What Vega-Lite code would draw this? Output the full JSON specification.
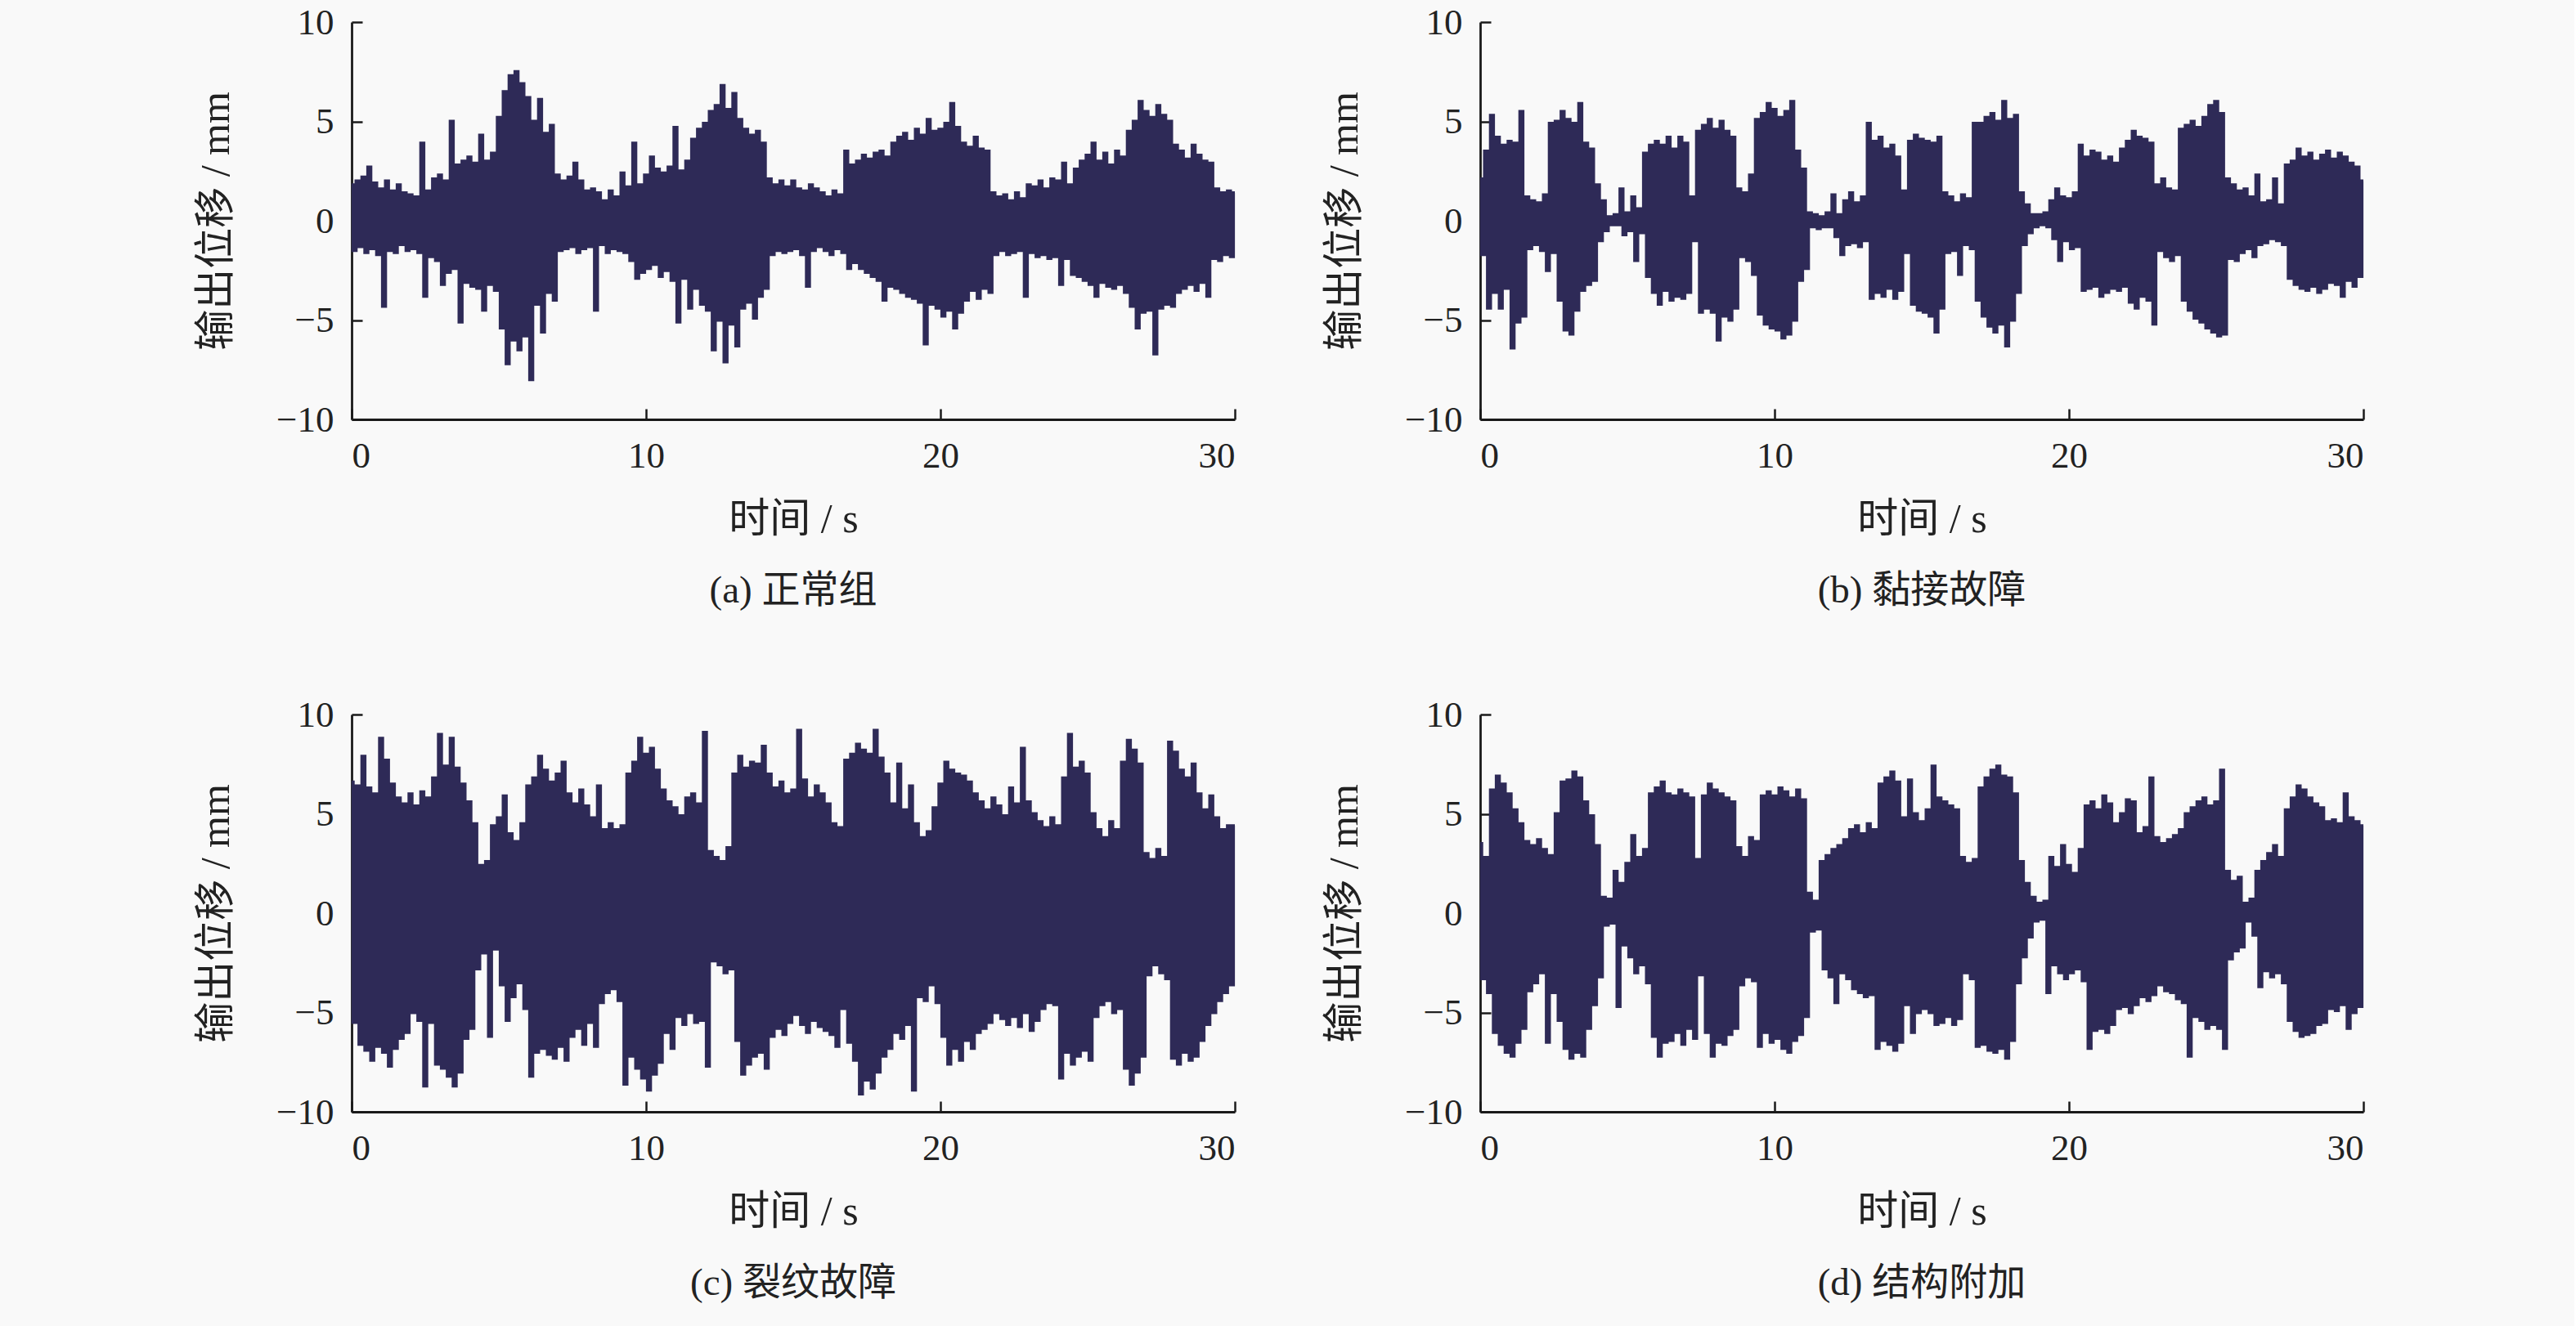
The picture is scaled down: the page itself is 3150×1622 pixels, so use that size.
{
  "$schema": "https://vega.github.io/schema/vega-lite/v6.json",
  "background": "#f9f9f9",
  "padding": {"left": 239, "top": 5, "right": 250, "bottom": 30},
  "bounds": "flush",
  "columns": 2,
  "spacing": {"row": 361, "column": 300},
  "data": {
    "values": [
      {"t":0,"a":1.8,"b":2.1,"c":6.6,"d":3.5},
      {"t":0.1,"a":-1.5,"b":-1.7,"c":-5.5,"d":-3.3},
      {"t":0.2,"a":2.0,"b":3.5,"c":6.4,"d":2.8},
      {"t":0.3,"a":-1.3,"b":-4.4,"c":-6.6,"d":-4.0},
      {"t":0.4,"a":2.2,"b":5.3,"c":7.9,"d":6.2},
      {"t":0.5,"a":-1.6,"b":-3.6,"c":-6.9,"d":-6.0},
      {"t":0.6,"a":2.7,"b":4.2,"c":6.3,"d":6.9},
      {"t":0.7,"a":-1.4,"b":-4.4,"c":-7.4,"d":-6.6},
      {"t":0.8,"a":1.9,"b":3.8,"c":6.0,"d":6.5},
      {"t":0.9,"a":-1.7,"b":-3.4,"c":-6.7,"d":-7.0},
      {"t":1.0,"a":1.6,"b":4.0,"c":8.8,"d":6.0},
      {"t":1.1,"a":-4.3,"b":-6.4,"c":-7.0,"d":-7.2},
      {"t":1.2,"a":2.0,"b":3.9,"c":7.7,"d":5.2},
      {"t":1.3,"a":-1.5,"b":-5.1,"c":-7.7,"d":-6.5},
      {"t":1.4,"a":1.5,"b":5.5,"c":6.5,"d":4.5},
      {"t":1.5,"a":-1.6,"b":-4.8,"c":-6.8,"d":-5.8},
      {"t":1.6,"a":1.8,"b":1.2,"c":5.8,"d":3.6},
      {"t":1.7,"a":-1.2,"b":-1.4,"c":-6.3,"d":-3.9},
      {"t":1.8,"a":1.4,"b":1.0,"c":5.5,"d":3.4},
      {"t":1.9,"a":-1.5,"b":-1.2,"c":-6.0,"d":-3.5},
      {"t":2.0,"a":1.3,"b":0.9,"c":6.0,"d":3.7},
      {"t":2.1,"a":-1.4,"b":-1.5,"c":-5.0,"d":-3.0},
      {"t":2.2,"a":1.2,"b":1.3,"c":5.4,"d":3.2},
      {"t":2.3,"a":-1.6,"b":-2.5,"c":-5.4,"d":-6.5},
      {"t":2.4,"a":3.9,"b":4.9,"c":6.1,"d":2.9},
      {"t":2.5,"a":-3.8,"b":-1.6,"c":-8.7,"d":-4.0},
      {"t":2.6,"a":1.5,"b":5.0,"c":5.8,"d":5.0},
      {"t":2.7,"a":-1.8,"b":-4.0,"c":-5.5,"d":-5.4},
      {"t":2.8,"a":2.1,"b":5.5,"c":6.8,"d":6.6},
      {"t":2.9,"a":-2.0,"b":-5.5,"c":-7.6,"d":-6.8},
      {"t":3.0,"a":2.3,"b":5.1,"c":9.0,"d":6.7},
      {"t":3.1,"a":-3.2,"b":-5.7,"c":-7.8,"d":-7.3},
      {"t":3.2,"a":2.0,"b":4.9,"c":7.4,"d":7.1},
      {"t":3.3,"a":-2.6,"b":-4.5,"c":-8.2,"d":-7.0},
      {"t":3.4,"a":5.0,"b":5.9,"c":8.8,"d":6.8},
      {"t":3.5,"a":-2.4,"b":-3.5,"c":-8.7,"d":-7.2},
      {"t":3.6,"a":2.8,"b":3.9,"c":7.3,"d":5.6},
      {"t":3.7,"a":-5.1,"b":-3.2,"c":-8.0,"d":-5.8},
      {"t":3.8,"a":3.0,"b":3.6,"c":6.5,"d":4.9},
      {"t":3.9,"a":-3.1,"b":-3.0,"c":-6.3,"d":-4.6},
      {"t":4.0,"a":3.2,"b":1.8,"c":5.6,"d":3.4},
      {"t":4.1,"a":-3.3,"b":-1.0,"c":-5.8,"d":-3.2},
      {"t":4.2,"a":2.9,"b":1.0,"c":4.5,"d":0.8},
      {"t":4.3,"a":-3.4,"b":-0.5,"c":-2.8,"d":-0.6},
      {"t":4.4,"a":4.3,"b":0.2,"c":2.4,"d":0.7},
      {"t":4.5,"a":-4.5,"b":-0.2,"c":-2.0,"d":-0.5},
      {"t":4.6,"a":3.0,"b":0.3,"c":2.6,"d":2.1},
      {"t":4.7,"a":-3.2,"b":-0.2,"c":-6.2,"d":-4.7},
      {"t":4.8,"a":3.4,"b":1.6,"c":4.4,"d":1.5},
      {"t":4.9,"a":-3.5,"b":-0.7,"c":-1.8,"d":-1.6},
      {"t":5.0,"a":5.2,"b":0.4,"c":4.8,"d":2.5},
      {"t":5.1,"a":-5.4,"b":-0.5,"c":-3.6,"d":-2.2},
      {"t":5.2,"a":6.5,"b":1.2,"c":5.9,"d":3.9},
      {"t":5.3,"a":-7.2,"b":-2.0,"c":-5.4,"d":-3.0},
      {"t":5.4,"a":7.3,"b":0.6,"c":4.0,"d":2.8},
      {"t":5.5,"a":-6.0,"b":-0.6,"c":-4.2,"d":-2.6},
      {"t":5.6,"a":7.5,"b":3.4,"c":3.6,"d":3.2},
      {"t":5.7,"a":-6.5,"b":-2.8,"c":-3.5,"d":-3.5},
      {"t":5.8,"a":6.9,"b":3.8,"c":4.5,"d":6.0},
      {"t":5.9,"a":-5.8,"b":-3.6,"c":-4.8,"d":-6.2},
      {"t":6.0,"a":6.2,"b":4.0,"c":6.4,"d":6.3},
      {"t":6.1,"a":-8.0,"b":-4.2,"c":-8.2,"d":-7.2},
      {"t":6.2,"a":5.0,"b":3.8,"c":6.8,"d":6.6},
      {"t":6.3,"a":-4.2,"b":-3.5,"c":-7.0,"d":-6.5},
      {"t":6.4,"a":6.1,"b":4.2,"c":7.9,"d":6.0},
      {"t":6.5,"a":-5.6,"b":-4.0,"c":-6.8,"d":-6.4},
      {"t":6.6,"a":4.4,"b":3.6,"c":7.2,"d":5.9},
      {"t":6.7,"a":-3.6,"b":-3.8,"c":-7.1,"d":-6.0},
      {"t":6.8,"a":4.8,"b":4.2,"c":6.6,"d":6.2},
      {"t":6.9,"a":-4.0,"b":-3.9,"c":-7.3,"d":-6.6},
      {"t":7.0,"a":2.3,"b":3.9,"c":7.0,"d":6.0},
      {"t":7.1,"a":-1.5,"b":-3.6,"c":-6.7,"d":-5.8},
      {"t":7.2,"a":2.0,"b":1.2,"c":7.6,"d":5.8},
      {"t":7.3,"a":-1.4,"b":-1.0,"c":-7.4,"d":-6.3},
      {"t":7.4,"a":2.2,"b":4.5,"c":6.0,"d":2.7},
      {"t":7.5,"a":-1.3,"b":-4.6,"c":-6.2,"d":-3.1},
      {"t":7.6,"a":2.9,"b":4.8,"c":5.5,"d":5.9},
      {"t":7.7,"a":-1.6,"b":-4.4,"c":-5.8,"d":-6.0},
      {"t":7.8,"a":2.0,"b":5.1,"c":6.2,"d":6.5},
      {"t":7.9,"a":-1.4,"b":-4.6,"c":-6.6,"d":-7.2},
      {"t":8.0,"a":1.5,"b":4.6,"c":5.4,"d":6.2},
      {"t":8.1,"a":-1.3,"b":-6.0,"c":-5.5,"d":-6.5},
      {"t":8.2,"a":1.6,"b":5.0,"c":4.8,"d":6.0},
      {"t":8.3,"a":-4.5,"b":-4.8,"c":-6.7,"d":-6.6},
      {"t":8.4,"a":1.4,"b":4.5,"c":6.4,"d":5.8},
      {"t":8.5,"a":-1.2,"b":-5.0,"c":-4.5,"d":-6.1},
      {"t":8.6,"a":1.0,"b":4.2,"c":4.2,"d":5.6},
      {"t":8.7,"a":-1.6,"b":-4.4,"c":-4.0,"d":-5.8},
      {"t":8.8,"a":1.5,"b":1.6,"c":4.5,"d":3.3},
      {"t":8.9,"a":-1.4,"b":-1.8,"c":-3.8,"d":-3.6},
      {"t":9.0,"a":1.2,"b":1.4,"c":4.2,"d":2.8},
      {"t":9.1,"a":-1.5,"b":-2.0,"c":-4.4,"d":-3.2},
      {"t":9.2,"a":2.4,"b":2.3,"c":4.4,"d":3.8},
      {"t":9.3,"a":-1.6,"b":-2.7,"c":-8.6,"d":-3.4},
      {"t":9.4,"a":1.7,"b":5.1,"c":7.0,"d":3.6},
      {"t":9.5,"a":-2.0,"b":-4.7,"c":-7.2,"d":-6.7},
      {"t":9.6,"a":3.9,"b":5.4,"c":7.6,"d":5.9},
      {"t":9.7,"a":-2.9,"b":-5.2,"c":-7.8,"d":-6.0},
      {"t":9.8,"a":1.8,"b":5.9,"c":8.8,"d":6.1},
      {"t":9.9,"a":-2.6,"b":-5.4,"c":-8.3,"d":-6.5},
      {"t":10.0,"a":2.3,"b":5.6,"c":8.0,"d":5.9},
      {"t":10.1,"a":-2.4,"b":-5.5,"c":-8.9,"d":-6.3},
      {"t":10.2,"a":3.2,"b":5.2,"c":8.3,"d":6.3},
      {"t":10.3,"a":-2.2,"b":-5.9,"c":-8.1,"d":-6.8},
      {"t":10.4,"a":2.6,"b":5.5,"c":7.2,"d":6.1},
      {"t":10.5,"a":-2.8,"b":-5.7,"c":-7.5,"d":-7.0},
      {"t":10.6,"a":2.4,"b":6.0,"c":6.2,"d":5.8},
      {"t":10.7,"a":-2.5,"b":-5.0,"c":-6.0,"d":-6.4},
      {"t":10.8,"a":2.7,"b":3.5,"c":5.6,"d":6.2},
      {"t":10.9,"a":-3.0,"b":-3.0,"c":-6.8,"d":-6.1},
      {"t":11.0,"a":4.7,"b":2.6,"c":5.3,"d":5.7},
      {"t":11.1,"a":-5.1,"b":-2.4,"c":-5.2,"d":-5.2},
      {"t":11.2,"a":2.5,"b":0.4,"c":4.9,"d":1.0},
      {"t":11.3,"a":-2.9,"b":-0.3,"c":-5.6,"d":-0.9},
      {"t":11.4,"a":3.0,"b":0.3,"c":5.8,"d":0.6},
      {"t":11.5,"a":-4.4,"b":-0.4,"c":-5.0,"d":-0.8},
      {"t":11.6,"a":4.1,"b":0.2,"c":6.0,"d":2.6},
      {"t":11.7,"a":-3.4,"b":-0.3,"c":-5.5,"d":-2.8},
      {"t":11.8,"a":4.6,"b":0.4,"c":5.5,"d":2.9},
      {"t":11.9,"a":-4.2,"b":-0.3,"c":-5.4,"d":-3.2},
      {"t":12.0,"a":4.9,"b":1.3,"c":9.1,"d":3.2},
      {"t":12.1,"a":-4.5,"b":-0.8,"c":-7.7,"d":-4.5},
      {"t":12.2,"a":5.5,"b":0.3,"c":3.1,"d":3.4},
      {"t":12.3,"a":-6.5,"b":-1.7,"c":-2.4,"d":-3.0},
      {"t":12.4,"a":5.8,"b":1.0,"c":2.8,"d":3.7},
      {"t":12.5,"a":-5.0,"b":-1.2,"c":-2.6,"d":-3.3},
      {"t":12.6,"a":6.8,"b":1.4,"c":2.6,"d":4.2},
      {"t":12.7,"a":-7.1,"b":-1.1,"c":-3.0,"d":-3.8},
      {"t":12.8,"a":5.6,"b":0.9,"c":3.3,"d":4.4},
      {"t":12.9,"a":-5.2,"b":-1.3,"c":-2.8,"d":-4.0},
      {"t":13.0,"a":6.4,"b":1.2,"c":7.0,"d":4.0},
      {"t":13.1,"a":-6.3,"b":-1.0,"c":-6.4,"d":-4.2},
      {"t":13.2,"a":5.1,"b":4.9,"c":7.9,"d":4.5},
      {"t":13.3,"a":-4.4,"b":-3.9,"c":-8.1,"d":-4.1},
      {"t":13.4,"a":4.6,"b":4.0,"c":7.3,"d":4.2},
      {"t":13.5,"a":-4.1,"b":-3.6,"c":-7.6,"d":-6.8},
      {"t":13.6,"a":4.3,"b":4.2,"c":7.6,"d":6.5},
      {"t":13.7,"a":-4.9,"b":-3.8,"c":-7.2,"d":-6.4},
      {"t":13.8,"a":4.5,"b":3.6,"c":7.5,"d":6.8},
      {"t":13.9,"a":-3.8,"b":-3.4,"c":-7.0,"d":-6.6},
      {"t":14.0,"a":3.9,"b":3.8,"c":8.4,"d":7.1},
      {"t":14.1,"a":-3.4,"b":-3.9,"c":-7.8,"d":-6.9},
      {"t":14.2,"a":2.1,"b":3.2,"c":7.0,"d":6.6},
      {"t":14.3,"a":-1.7,"b":-3.5,"c":-6.2,"d":-6.5},
      {"t":14.4,"a":1.8,"b":1.5,"c":6.3,"d":4.8},
      {"t":14.5,"a":-1.5,"b":-1.6,"c":-5.8,"d":-4.6},
      {"t":14.6,"a":2.0,"b":4.0,"c":6.6,"d":6.7},
      {"t":14.7,"a":-1.6,"b":-4.2,"c":-6.1,"d":-6.0},
      {"t":14.8,"a":1.7,"b":4.3,"c":6.0,"d":5.0},
      {"t":14.9,"a":-1.5,"b":-4.5,"c":-5.5,"d":-5.0},
      {"t":15.0,"a":2.0,"b":4.1,"c":6.2,"d":4.6},
      {"t":15.1,"a":-1.4,"b":-4.6,"c":-5.1,"d":-4.8},
      {"t":15.2,"a":1.6,"b":4.0,"c":9.2,"d":5.2},
      {"t":15.3,"a":-1.7,"b":-4.8,"c":-5.6,"d":-5.0},
      {"t":15.4,"a":1.5,"b":3.9,"c":6.7,"d":7.4},
      {"t":15.5,"a":-3.3,"b":-5.6,"c":-6.0,"d":-5.6},
      {"t":15.6,"a":1.8,"b":4.2,"c":5.8,"d":5.8},
      {"t":15.7,"a":-1.5,"b":-4.4,"c":-5.4,"d":-5.5},
      {"t":15.8,"a":1.6,"b":1.4,"c":6.4,"d":5.6},
      {"t":15.9,"a":-1.3,"b":-1.6,"c":-5.7,"d":-5.2},
      {"t":16.0,"a":1.4,"b":1.2,"c":6.0,"d":5.4},
      {"t":16.1,"a":-1.5,"b":-1.5,"c":-5.9,"d":-5.6},
      {"t":16.2,"a":1.2,"b":0.9,"c":5.5,"d":5.2},
      {"t":16.3,"a":-1.7,"b":-2.7,"c":-6.1,"d":-5.3},
      {"t":16.4,"a":1.5,"b":1.3,"c":4.5,"d":2.8},
      {"t":16.5,"a":-1.4,"b":-1.2,"c":-6.7,"d":-3.0},
      {"t":16.6,"a":1.3,"b":1.1,"c":4.3,"d":2.5},
      {"t":16.7,"a":-1.6,"b":-1.4,"c":-4.8,"d":-3.3},
      {"t":16.8,"a":3.5,"b":4.9,"c":7.7,"d":2.7},
      {"t":16.9,"a":-2.4,"b":-4.0,"c":-6.5,"d":-6.7},
      {"t":17.0,"a":2.8,"b":4.9,"c":8.0,"d":6.3},
      {"t":17.1,"a":-2.1,"b":-4.8,"c":-7.4,"d":-6.6},
      {"t":17.2,"a":3.0,"b":5.2,"c":8.5,"d":6.8},
      {"t":17.3,"a":-2.4,"b":-5.3,"c":-9.1,"d":-6.9},
      {"t":17.4,"a":3.3,"b":5.4,"c":8.2,"d":7.2},
      {"t":17.5,"a":-2.6,"b":-5.6,"c":-8.4,"d":-7.0},
      {"t":17.6,"a":3.1,"b":5.0,"c":8.0,"d":7.4},
      {"t":17.7,"a":-2.8,"b":-5.2,"c":-8.8,"d":-6.8},
      {"t":17.8,"a":3.4,"b":6.0,"c":9.2,"d":6.9},
      {"t":17.9,"a":-3.0,"b":-6.3,"c":-8.0,"d":-7.3},
      {"t":18.0,"a":3.5,"b":5.1,"c":7.8,"d":6.8},
      {"t":18.1,"a":-4.0,"b":-5.0,"c":-7.2,"d":-6.4},
      {"t":18.2,"a":3.2,"b":5.3,"c":7.0,"d":6.0},
      {"t":18.3,"a":-3.3,"b":-3.6,"c":-6.8,"d":-3.5},
      {"t":18.4,"a":3.9,"b":1.4,"c":5.5,"d":2.6},
      {"t":18.5,"a":-3.4,"b":-1.2,"c":-6.0,"d":-2.2},
      {"t":18.6,"a":4.2,"b":0.8,"c":7.5,"d":1.5},
      {"t":18.7,"a":-3.6,"b":-0.6,"c":-6.3,"d":-1.2},
      {"t":18.8,"a":4.4,"b":0.3,"c":5.2,"d":0.8},
      {"t":18.9,"a":-3.8,"b":-0.3,"c":-5.6,"d":-0.4},
      {"t":19.0,"a":4.0,"b":0.3,"c":6.4,"d":0.5},
      {"t":19.1,"a":-3.9,"b":-0.2,"c":-8.9,"d":-0.3},
      {"t":19.2,"a":4.6,"b":0.4,"c":4.5,"d":0.6},
      {"t":19.3,"a":-4.1,"b":-0.3,"c":-4.2,"d":-4.0},
      {"t":19.4,"a":4.3,"b":1.0,"c":3.8,"d":2.8},
      {"t":19.5,"a":-6.2,"b":-0.9,"c":-4.4,"d":-2.6},
      {"t":19.6,"a":5.1,"b":1.6,"c":4.1,"d":2.3},
      {"t":19.7,"a":-4.2,"b":-2.0,"c":-3.6,"d":-3.0},
      {"t":19.8,"a":4.5,"b":1.2,"c":5.3,"d":3.4},
      {"t":19.9,"a":-4.4,"b":-1.0,"c":-4.5,"d":-3.3},
      {"t":20.0,"a":4.6,"b":1.1,"c":6.5,"d":2.4},
      {"t":20.1,"a":-4.8,"b":-1.4,"c":-6.2,"d":-3.0},
      {"t":20.2,"a":4.9,"b":1.4,"c":7.6,"d":2.0},
      {"t":20.3,"a":-4.5,"b":-1.3,"c":-7.6,"d":-2.8},
      {"t":20.4,"a":5.9,"b":3.8,"c":7.2,"d":3.2},
      {"t":20.5,"a":-5.4,"b":-3.5,"c":-6.8,"d":-3.4},
      {"t":20.6,"a":4.7,"b":3.2,"c":7.0,"d":5.4},
      {"t":20.7,"a":-4.6,"b":-3.4,"c":-7.4,"d":-6.8},
      {"t":20.8,"a":3.9,"b":3.5,"c":6.9,"d":5.6},
      {"t":20.9,"a":-4.0,"b":-3.3,"c":-6.4,"d":-5.9},
      {"t":21.0,"a":3.7,"b":3.4,"c":6.6,"d":5.2},
      {"t":21.1,"a":-3.5,"b":-3.8,"c":-6.8,"d":-5.8},
      {"t":21.2,"a":4.2,"b":3.0,"c":6.0,"d":5.9},
      {"t":21.3,"a":-3.9,"b":-3.6,"c":-6.0,"d":-6.0},
      {"t":21.4,"a":3.6,"b":3.2,"c":5.6,"d":5.5},
      {"t":21.5,"a":-3.4,"b":-3.4,"c":-5.8,"d":-5.6},
      {"t":21.6,"a":3.5,"b":2.9,"c":5.2,"d":4.5},
      {"t":21.7,"a":-3.6,"b":-3.5,"c":-5.5,"d":-4.8},
      {"t":21.8,"a":1.4,"b":3.6,"c":5.8,"d":5.0},
      {"t":21.9,"a":-1.7,"b":-3.3,"c":-5.0,"d":-4.7},
      {"t":22.0,"a":1.2,"b":4.0,"c":5.4,"d":5.7},
      {"t":22.1,"a":-1.5,"b":-4.1,"c":-5.3,"d":-5.0},
      {"t":22.2,"a":1.3,"b":4.5,"c":4.9,"d":5.6},
      {"t":22.3,"a":-1.7,"b":-4.4,"c":-5.6,"d":-4.6},
      {"t":22.4,"a":1.0,"b":4.2,"c":6.3,"d":4.0},
      {"t":22.5,"a":-1.6,"b":-3.8,"c":-5.2,"d":-4.2},
      {"t":22.6,"a":1.4,"b":4.1,"c":5.5,"d":4.3},
      {"t":22.7,"a":-1.5,"b":-4.0,"c":-5.7,"d":-4.4},
      {"t":22.8,"a":1.1,"b":3.9,"c":8.3,"d":6.8},
      {"t":22.9,"a":-3.8,"b":-5.2,"c":-5.0,"d":-4.1},
      {"t":23.0,"a":1.8,"b":1.8,"c":5.6,"d":3.8},
      {"t":23.1,"a":-1.6,"b":-1.5,"c":-5.9,"d":-3.6},
      {"t":23.2,"a":1.7,"b":2.1,"c":5.0,"d":3.5},
      {"t":23.3,"a":-1.8,"b":-1.8,"c":-5.4,"d":-3.9},
      {"t":23.4,"a":2.0,"b":1.6,"c":4.6,"d":3.7},
      {"t":23.5,"a":-1.7,"b":-2.0,"c":-4.8,"d":-4.0},
      {"t":23.6,"a":1.6,"b":1.5,"c":4.3,"d":3.9},
      {"t":23.7,"a":-1.9,"b":-1.7,"c":-4.5,"d":-4.3},
      {"t":23.8,"a":2.1,"b":4.6,"c":4.8,"d":4.2},
      {"t":23.9,"a":-1.8,"b":-4.0,"c":-4.6,"d":-4.5},
      {"t":24.0,"a":2.0,"b":4.8,"c":4.4,"d":5.0},
      {"t":24.1,"a":-3.2,"b":-4.5,"c":-8.3,"d":-7.2},
      {"t":24.2,"a":2.9,"b":5.0,"c":6.8,"d":5.3},
      {"t":24.3,"a":-1.9,"b":-4.9,"c":-7.0,"d":-5.2},
      {"t":24.4,"a":1.8,"b":4.7,"c":9.0,"d":5.6},
      {"t":24.5,"a":-2.7,"b":-5.1,"c":-7.6,"d":-5.4},
      {"t":24.6,"a":2.6,"b":5.2,"c":7.3,"d":5.8},
      {"t":24.7,"a":-2.8,"b":-5.4,"c":-7.2,"d":-5.8},
      {"t":24.8,"a":3.0,"b":5.8,"c":7.6,"d":5.4},
      {"t":24.9,"a":-3.0,"b":-5.6,"c":-6.9,"d":-5.6},
      {"t":25.0,"a":3.3,"b":6.0,"c":7.0,"d":5.6},
      {"t":25.1,"a":-3.2,"b":-5.8,"c":-7.4,"d":-5.8},
      {"t":25.2,"a":3.9,"b":5.4,"c":5.0,"d":7.2},
      {"t":25.3,"a":-3.8,"b":-5.7,"c":-5.2,"d":-6.8},
      {"t":25.4,"a":3.0,"b":2.1,"c":4.2,"d":2.1},
      {"t":25.5,"a":-3.1,"b":-1.9,"c":-4.6,"d":-2.3},
      {"t":25.6,"a":3.4,"b":1.8,"c":3.8,"d":1.6},
      {"t":25.7,"a":-3.3,"b":-2.0,"c":-4.4,"d":-1.9},
      {"t":25.8,"a":2.8,"b":1.5,"c":4.6,"d":1.8},
      {"t":25.9,"a":-3.4,"b":-1.6,"c":-5.0,"d":-1.7},
      {"t":26.0,"a":3.5,"b":1.6,"c":4.2,"d":0.5},
      {"t":26.1,"a":-3.2,"b":-1.4,"c":-4.8,"d":-0.4},
      {"t":26.2,"a":3.2,"b":1.2,"c":7.6,"d":0.7},
      {"t":26.3,"a":-3.6,"b":-1.8,"c":-7.8,"d":-1.1},
      {"t":26.4,"a":4.5,"b":2.3,"c":8.7,"d":2.1},
      {"t":26.5,"a":-4.3,"b":-1.2,"c":-8.6,"d":-3.7},
      {"t":26.6,"a":5.0,"b":0.9,"c":8.2,"d":2.6},
      {"t":26.7,"a":-5.4,"b":-1.1,"c":-8.0,"d":-2.9},
      {"t":26.8,"a":6.0,"b":1.0,"c":7.5,"d":3.0},
      {"t":26.9,"a":-4.6,"b":-0.9,"c":-7.2,"d":-3.2},
      {"t":27.0,"a":5.5,"b":2.1,"c":3.0,"d":3.4},
      {"t":27.1,"a":-4.5,"b":-1.0,"c":-3.1,"d":-3.0},
      {"t":27.2,"a":5.2,"b":0.8,"c":2.7,"d":2.8},
      {"t":27.3,"a":-6.7,"b":-1.2,"c":-2.6,"d":-3.5},
      {"t":27.4,"a":5.8,"b":2.8,"c":3.2,"d":5.2},
      {"t":27.5,"a":-4.4,"b":-2.9,"c":-3.0,"d":-5.4},
      {"t":27.6,"a":5.3,"b":3.0,"c":2.8,"d":5.8},
      {"t":27.7,"a":-4.2,"b":-3.2,"c":-3.3,"d":-5.9},
      {"t":27.8,"a":5.0,"b":3.6,"c":8.6,"d":6.4},
      {"t":27.9,"a":-4.3,"b":-3.4,"c":-7.3,"d":-6.2},
      {"t":28.0,"a":3.8,"b":3.2,"c":8.1,"d":6.2},
      {"t":28.1,"a":-3.6,"b":-3.5,"c":-7.6,"d":-6.1},
      {"t":28.2,"a":3.5,"b":3.4,"c":7.2,"d":5.8},
      {"t":28.3,"a":-3.4,"b":-3.3,"c":-7.0,"d":-6.0},
      {"t":28.4,"a":3.1,"b":3.0,"c":6.8,"d":5.5},
      {"t":28.5,"a":-3.2,"b":-3.6,"c":-7.4,"d":-5.6},
      {"t":28.6,"a":3.8,"b":3.3,"c":7.5,"d":5.3},
      {"t":28.7,"a":-3.5,"b":-3.4,"c":-7.2,"d":-5.5},
      {"t":28.8,"a":3.3,"b":3.5,"c":6.0,"d":4.6},
      {"t":28.9,"a":-3.1,"b":-3.1,"c":-6.4,"d":-4.8},
      {"t":29.0,"a":3.0,"b":3.1,"c":5.2,"d":4.7},
      {"t":29.1,"a":-3.8,"b":-3.2,"c":-5.6,"d":-4.9},
      {"t":29.2,"a":2.9,"b":3.4,"c":5.9,"d":4.5},
      {"t":29.3,"a":-1.9,"b":-3.8,"c":-5.0,"d":-4.6},
      {"t":29.4,"a":1.6,"b":3.2,"c":4.8,"d":6.0},
      {"t":29.5,"a":-2.0,"b":-3.0,"c":-4.4,"d":-5.8},
      {"t":29.6,"a":1.4,"b":2.9,"c":4.2,"d":4.8},
      {"t":29.7,"a":-1.7,"b":-3.3,"c":-4.0,"d":-5.0},
      {"t":29.8,"a":1.5,"b":2.7,"c":4.4,"d":4.6},
      {"t":29.9,"a":-1.8,"b":-2.8,"c":-3.6,"d":-4.7},
      {"t":30.0,"a":1.4,"b":2.0,"c":4.4,"d":4.4}
    ]
  },
  "concat": [
    {
      "width": 1080,
      "height": 486,
      "title": {"text": "(a) 正常组", "orient": "bottom"},
      "mark": {"type": "line", "color": "#2e2a57", "strokeWidth": 3.8, "interpolate": "step"},
      "encoding": {
        "x": {"field": "t", "type": "quantitative", "scale": {"domain": [0, 30], "nice": false}, "axis": {"values": [0, 10, 20, 30], "title": "时间 / s"}},
        "y": {"field": "a", "type": "quantitative", "scale": {"domain": [-10, 10], "nice": false}, "axis": {"values": [-10, -5, 0, 5, 10], "title": "输出位移 / mm"}}
      }
    },
    {
      "width": 1080,
      "height": 486,
      "title": {"text": "(b) 黏接故障", "orient": "bottom"},
      "mark": {"type": "line", "color": "#2e2a57", "strokeWidth": 3.8, "interpolate": "step"},
      "encoding": {
        "x": {"field": "t", "type": "quantitative", "scale": {"domain": [0, 30], "nice": false}, "axis": {"values": [0, 10, 20, 30], "title": "时间 / s"}},
        "y": {"field": "b", "type": "quantitative", "scale": {"domain": [-10, 10], "nice": false}, "axis": {"values": [-10, -5, 0, 5, 10], "title": "输出位移 / mm"}}
      }
    },
    {
      "width": 1080,
      "height": 486,
      "title": {"text": "(c) 裂纹故障", "orient": "bottom"},
      "mark": {"type": "line", "color": "#2e2a57", "strokeWidth": 3.8, "interpolate": "step"},
      "encoding": {
        "x": {"field": "t", "type": "quantitative", "scale": {"domain": [0, 30], "nice": false}, "axis": {"values": [0, 10, 20, 30], "title": "时间 / s"}},
        "y": {"field": "c", "type": "quantitative", "scale": {"domain": [-10, 10], "nice": false}, "axis": {"values": [-10, -5, 0, 5, 10], "title": "输出位移 / mm"}}
      }
    },
    {
      "width": 1080,
      "height": 486,
      "title": {"text": "(d) 结构附加", "orient": "bottom"},
      "mark": {"type": "line", "color": "#2e2a57", "strokeWidth": 3.8, "interpolate": "step"},
      "encoding": {
        "x": {"field": "t", "type": "quantitative", "scale": {"domain": [0, 30], "nice": false}, "axis": {"values": [0, 10, 20, 30], "title": "时间 / s"}},
        "y": {"field": "d", "type": "quantitative", "scale": {"domain": [-10, 10], "nice": false}, "axis": {"values": [-10, -5, 0, 5, 10], "title": "输出位移 / mm"}}
      }
    }
  ],
  "config": {
    "view": {"stroke": null},
    "font": "Liberation Serif",
    "axis": {
      "grid": false,
      "domainColor": "#1a1a1a",
      "domainWidth": 2.8,
      "tickColor": "#1a1a1a",
      "tickWidth": 2.5,
      "tickSize": -13,
      "labelFont": "Liberation Serif",
      "labelFontSize": 45,
      "labelColor": "#222222",
      "titleFont": "Liberation Serif, Noto Sans CJK SC",
      "titleFontSize": 50,
      "titleFontWeight": "normal",
      "titleColor": "#222222"
    },
    "axisX": {"labelPadding": 35, "titlePadding": 30},
    "axisY": {"labelPadding": 35, "titlePadding": 48},
    "title": {
      "font": "Liberation Serif, Noto Sans CJK SC",
      "fontSize": 47,
      "fontWeight": "normal",
      "color": "#222222",
      "offset": 40
    }
  }
}
